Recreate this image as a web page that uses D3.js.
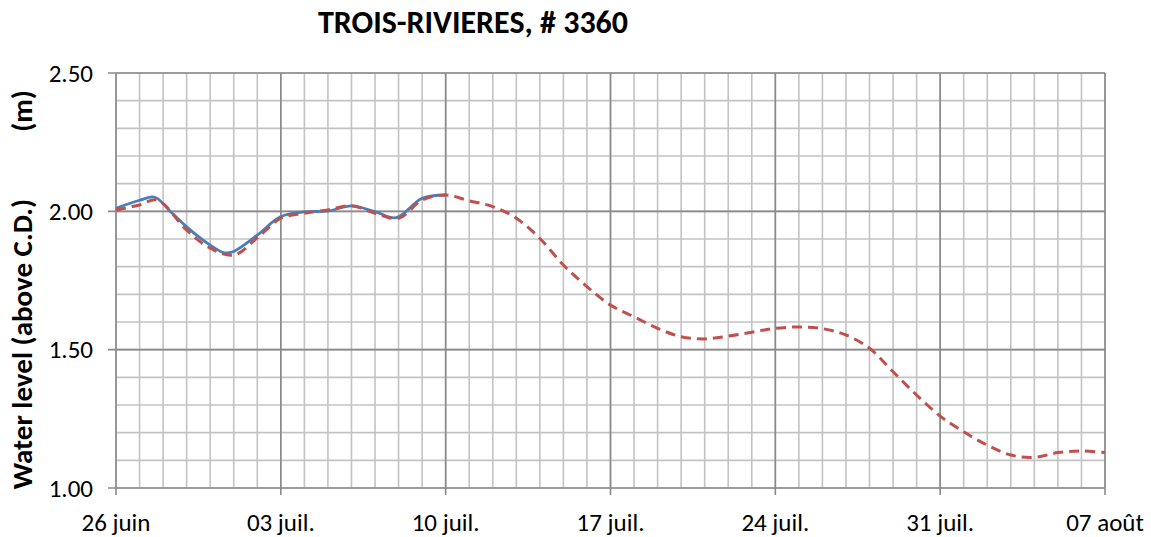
<!DOCTYPE html>
<html>
<head>
<meta charset="utf-8">
<script src="https://cdn.jsdelivr.net/npm/d3@7"></script>
<style>
  body { margin: 0; background: #fff; }
  text { font-family: Carlito, "Open Sans", sans-serif; fill: #000; }
</style>
</head>
<body>
<svg id="chart" width="1151" height="537"></svg>
<script>
// data, day 0 = 26 juin
var title = "TROIS-RIVIERES, # 3360";
var yTitle = "Water level (above C.D.)";
var yUnit = "(m)";
var tickDays = [0, 7, 14, 21, 28, 35, 42];
var tickLabels = ["26 juin", "03 juil.", "10 juil.", "17 juil.", "24 juil.", "31 juil.", "07 août"];
var yTicks = [1.0, 1.5, 2.0, 2.5];

var observedDays = [0, 1, 1.65, 2.3, 3, 4, 4.6, 5, 6, 7, 8, 9, 10, 11, 11.9, 13, 14];
var observed = [2.011, 2.040, 2.051, 2.000, 1.944, 1.878, 1.850, 1.855, 1.914, 1.981, 1.998, 2.001, 2.020, 1.999, 1.977, 2.047, 2.059];

var predictedDays = [0, 1, 1.75, 3, 4, 5, 6, 7, 8, 9, 10, 11, 12, 13, 14, 15, 16, 17, 18, 19, 20, 21, 22, 23, 24, 25, 26, 27, 28, 29, 30, 31, 32, 33, 34, 35, 36, 37, 38, 39, 40, 41, 42];
var predicted = [2.005, 2.023, 2.041, 1.932, 1.867, 1.842, 1.904, 1.975, 1.993, 2.005, 2.020, 1.993, 1.975, 2.041, 2.059, 2.038, 2.017, 1.975, 1.902, 1.806, 1.728, 1.661, 1.619, 1.577, 1.547, 1.539, 1.549, 1.563, 1.577, 1.582, 1.576, 1.553, 1.505, 1.420, 1.336, 1.260, 1.203, 1.155, 1.119, 1.111, 1.128, 1.134, 1.128];

var svg = d3.select("#chart");
var plotLeft = 116, plotRight = 1105, plotTop = 73, plotBottom = 488;

var x = d3.scaleLinear().domain([0, 42]).range([plotLeft, plotRight]);
var y = d3.scaleLinear().domain([1, 2.5]).range([plotBottom, plotTop]);

// grid, minor first then major
var g = svg.append("g");
g.selectAll(".vminor").data(d3.range(0, 43)).enter().append("line")
  .attr("x1", function(d){ return x(d); }).attr("x2", function(d){ return x(d); })
  .attr("y1", plotTop).attr("y2", plotBottom)
  .attr("stroke", "#c3c3c3").attr("stroke-width", 1.6);
g.selectAll(".hminor").data(d3.range(10, 26).map(function(d){ return d / 10; })).enter().append("line")
  .attr("x1", plotLeft).attr("x2", plotRight)
  .attr("y1", function(d){ return y(d); }).attr("y2", function(d){ return y(d); })
  .attr("stroke", "#c3c3c3").attr("stroke-width", 1.6);
g.selectAll(".vmajor").data(tickDays).enter().append("line")
  .attr("x1", function(d){ return x(d); }).attr("x2", function(d){ return x(d); })
  .attr("y1", plotTop).attr("y2", plotBottom + 7)
  .attr("stroke", "#8a8a8a").attr("stroke-width", 1.6);
g.selectAll(".hmajor").data(yTicks).enter().append("line")
  .attr("x1", plotLeft - 8).attr("x2", plotRight)
  .attr("y1", function(d){ return y(d); }).attr("y2", function(d){ return y(d); })
  .attr("stroke", "#8a8a8a").attr("stroke-width", 1.6);

// axis labels
svg.selectAll(".ylab").data(yTicks).enter().append("text")
  .attr("x", 93).attr("y", function(d){ return y(d); })
  .attr("dy", "0.35em").attr("text-anchor", "end")
  .style("font-size", "25px")
  .text(function(d){ return d.toFixed(2); });

svg.selectAll(".xlab").data(tickDays).enter().append("text")
  .attr("x", function(d){ return x(d); }).attr("y", 531)
  .attr("text-anchor", "middle")
  .style("font-size", "25px")
  .text(function(d, i){ return tickLabels[i]; });

svg.append("text")
  .attr("x", 473).attr("y", 33)
  .attr("text-anchor", "middle")
  .style("font-size", "32px").style("font-weight", "bold")
  .text(title);

svg.append("text")
  .attr("transform", "translate(32,344) rotate(-90)")
  .attr("text-anchor", "middle")
  .style("font-size", "29px").style("font-weight", "bold")
  .text(yTitle);
svg.append("text")
  .attr("transform", "translate(32,111) rotate(-90)")
  .attr("text-anchor", "middle")
  .style("font-size", "29px").style("font-weight", "bold")
  .text(yUnit);

// series
var line = d3.line()
  .x(function(d){ return x(d[0]); })
  .y(function(d){ return y(d[1]); })
  .curve(d3.curveCatmullRom.alpha(0.5));

svg.append("path")
  .datum(d3.zip(observedDays, observed))
  .attr("d", line)
  .attr("fill", "none").attr("stroke", "#4a7ebb").attr("stroke-width", 2.8);

svg.append("path")
  .datum(d3.zip(predictedDays, predicted))
  .attr("d", line)
  .attr("fill", "none").attr("stroke", "#c0504d").attr("stroke-width", 3)
  .attr("stroke-dasharray", "10,6");
</script>
</body>
</html>
